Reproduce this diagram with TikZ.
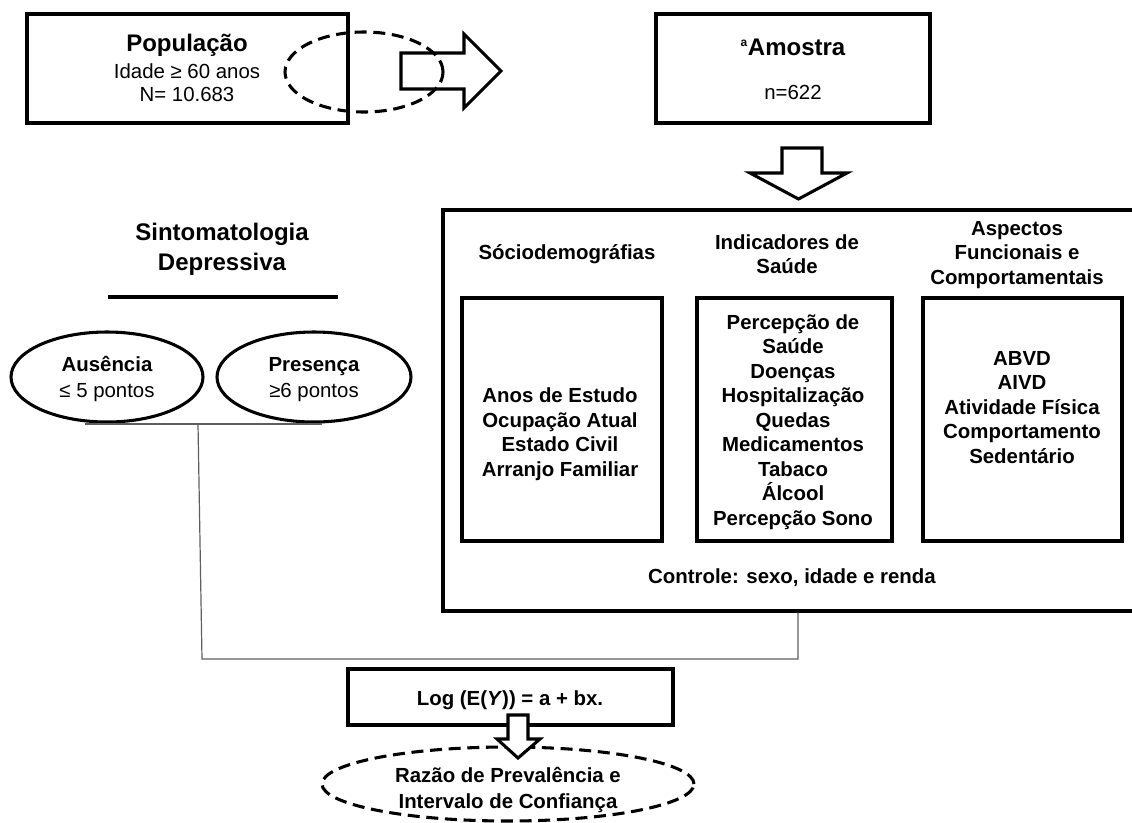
\documentclass[tikz,border=0pt]{standalone}
\usepackage{fontspec}
\setmainfont{Liberation Sans}
\usetikzlibrary{shapes.geometric}

\tikzset{
  boxline/.style={draw, line width=2.3pt, rectangle, inner sep=0pt},
  ovalline/.style={draw, line width=2.3pt, ellipse, inner sep=0pt},
  dashline/.style={line width=2.3pt, dash pattern={on 9pt off 5pt}},
  bigtxt/.style={inner sep=0pt, align=center, font=\fontsize{18}{22.5}\selectfont\bfseries},
  bodytxt/.style={inner sep=0pt, align=center, font=\fontsize{15.3}{18.4}\selectfont},
  boldtxt/.style={bodytxt, font=\fontsize{15.3}{18.4}\selectfont\bfseries},
  linkline/.style={draw, line width=0.9pt, color={rgb, 255:red, 95; green, 95; blue, 95}},
  blockarrow/.style={line width=2.3pt, line join=miter, fill=white}
}

\begin{document}
\begin{tikzpicture}[x=0.75pt,y=0.75pt,yscale=-1,xscale=1]
\useasboundingbox (0,0) rectangle (1132,822);
\clip (0,0) rectangle (1132,822);

%Shape: Rectangle [id:pop]
\node (pop) [boxline, minimum width=240.75pt, minimum height=81.75pt] at (187.5,68.5) {};
% Text Node
\node (popT) [bigtxt] at (187,45) {População};
\node (popI) [bodytxt] at (187,71) {Idade ≥ 60 anos};
\node (popN) [bodytxt] at (187,94) {N= 10.683};
%Shape: Ellipse [id:sel]
\node (sel) [ellipse, draw, dashline, inner sep=0pt, minimum width=118.5pt, minimum height=60pt] at (364,72) {};
%Shape: Right Arrow [id:toamo]
\draw [line width=2.3pt, line join=miter] (401,53) -- (464,53) -- (464,34) -- (501,71) -- (464,108) -- (464,89) -- (401,89) -- cycle ;

%Shape: Rectangle [id:amo]
\node (amo) [boxline, minimum width=205.5pt, minimum height=81.75pt] at (793,68.5) {};
% Text Node
\node (amoT) [bigtxt] at (793,47) {\textsuperscript{\fontsize{9}{9}\selectfont a}Amostra};
\node (amoN) [bodytxt] at (793,92) {n=622};
%Shape: Down Arrow [id:tofac]
\draw [blockarrow] (782,148) -- (822,148) -- (822,173) -- (847,173) -- (798.5,199) -- (750,173) -- (782,173) -- cycle ;

% Text Node
\node (sint) [bigtxt] at (222,249.5) {Sintomatologia\\Depressiva};
%Straight Lines [id:rule]
\draw [line width=2.3pt] (108,297) -- (338,297) ;
%Shape: Ellipse [id:aus]
\node (aus) [ovalline, minimum width=144pt, minimum height=67.5pt] at (107,377) {};
\node (ausT) [boldtxt] at (107,364) {Ausência};
\node (ausP) [bodytxt] at (107,392.5) {≤ 5 pontos};
%Shape: Ellipse [id:pre]
\node (pre) [ovalline, minimum width=145.5pt, minimum height=67.5pt] at (314,377) {};
\node (preT) [boldtxt] at (314,367) {Presença};
\node (preP) [bodytxt] at (314,392.5) {≥6 pontos};

%Shape: Rectangle [id:fac]
\node (fac) [boxline, minimum width=532.5pt, minimum height=300.75pt] at (798,410.5) {};
% Text Node
\node (socH) [boldtxt] at (567,254.5) {Sóciodemográfias};
\node (indH) [boldtxt] at (787,254) {Indicadores de\\Saúde};
\node (aspH) [boldtxt] at (1017,255) {Aspectos\\Funcionais e\\Comportamentais};
%Shape: Rectangle [id:soc]
\node (soc) [boxline, minimum width=150pt, minimum height=182.25pt] at (562,419.5) {};
\node (socL) [boldtxt] at (560,434) {Anos de Estudo\\Ocupação Atual\\Estado Civil\\Arranjo Familiar};
%Shape: Rectangle [id:ind]
\node (ind) [boxline, minimum width=146.25pt, minimum height=182.25pt] at (794.5,419.5) {};
\node (indL) [boldtxt] at (793,422) {Percepção de\\Saúde\\Doenças\\Hospitalização\\Quedas\\Medicamentos\\Tabaco\\Álcool\\Percepção Sono};
%Shape: Rectangle [id:asp]
\node (asp) [boxline, minimum width=149.25pt, minimum height=182.25pt] at (1022.5,419.5) {};
\node (aspL) [boldtxt] at (1022,407.5) {ABVD\\AIVD\\Atividade Física\\Comportamento\\Sedentário};
% Text Node
\node (ctrl) [boldtxt] at (792,578) {Controle: sexo, idade e renda};

%Straight Lines [id:join]
\coordinate (brkL) at (85,424);
\coordinate (brkR) at (322,424);
\coordinate (brk) at (198,424);
\coordinate (elb) at (202,659);
\draw [linkline] (brkL) -- (brkR) ;
\draw [linkline] (brk) -- (elb) -- (elb -| fac.south) -- (fac.south) ;

%Shape: Rectangle [id:logb]
\node (logb) [boxline, minimum width=243.75pt, minimum height=42pt] at (510.5,697) {};
\node (logT) [boldtxt] at (510,700) {Log (E(\textit{Y})) = a + bx.};
%Shape: Ellipse [id:res]
\node (res) [ellipse, draw, dashline, inner sep=0pt, minimum width=279pt, minimum height=55.5pt] at (508,784) {};
\node (resT) [boldtxt, font=\fontsize{15.3}{20}\selectfont\bfseries] at (508,790) {Razão de Prevalência e\\Intervalo de Confiança};
%Shape: Down Arrow [id:tores]
\draw [blockarrow] (508,715) -- (528,715) -- (528,739) -- (540,739) -- (518,758) -- (497,739) -- (508,739) -- cycle ;

\end{tikzpicture}
\end{document}
